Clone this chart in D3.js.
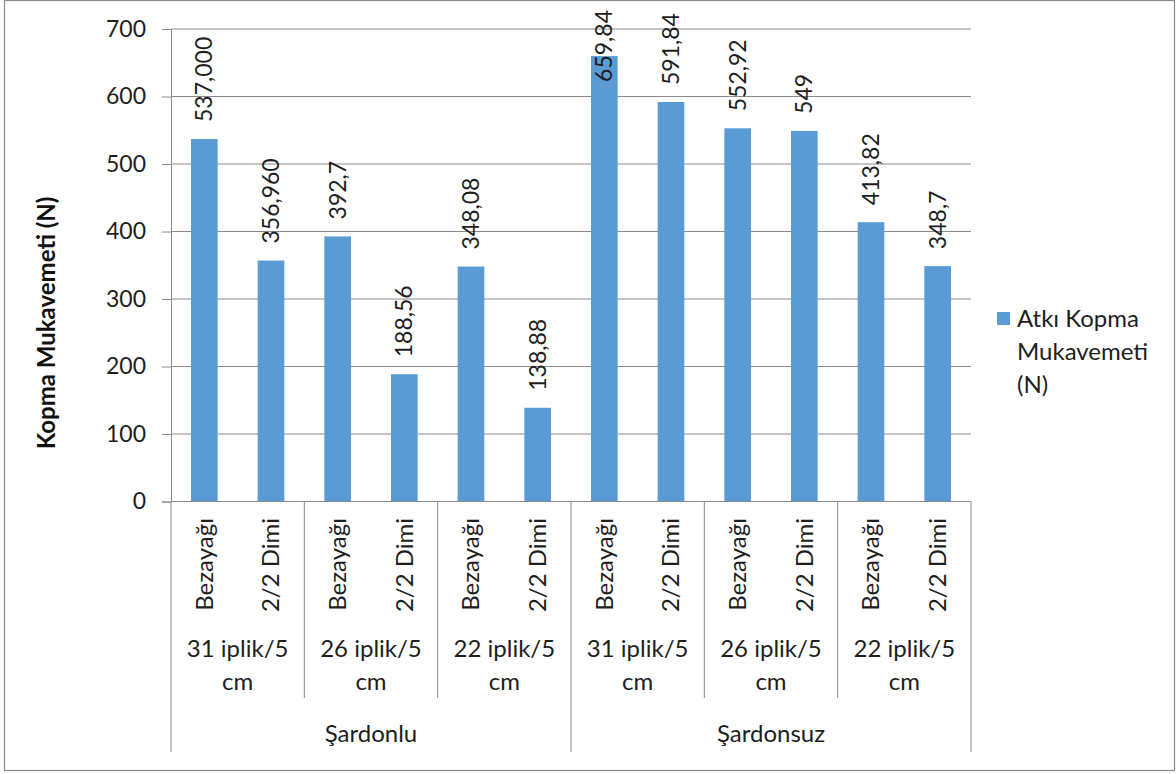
<!DOCTYPE html>
<html>
<head>
<meta charset="utf-8">
<script src="https://cdn.jsdelivr.net/npm/d3@7"></script>
<style>
  html, body { margin: 0; padding: 0; background: #fff; }
  svg { display: block; font-family: Lato, "Liberation Sans", sans-serif; }
</style>
</head>
<body>
<svg id="chart" width="1176" height="774"></svg>
<script>
// Chart data
const groups = ["Şardonlu", "Şardonsuz"];
const densities = ["31 iplik/5 cm", "26 iplik/5 cm", "22 iplik/5 cm"];
const weaves = ["Bezayağı", "2/2 Dimi"];
const valueLabels = ["537,000", "356,960", "392,7", "188,56", "348,08", "138,88",
                     "659,84", "591,84", "552,92", "549", "413,82", "348,7"];
const values = valueLabels.map(s => +s.replace(",", "."));
const yTicks = [0, 100, 200, 300, 400, 500, 600, 700];
const seriesName = ["Atkı Kopma", "Mukavemeti", "(N)"];
const yTitle = "Kopma Mukavemeti (N)";

// Build the flat category list: group > density > weave
const cats = [];
groups.forEach((g, gi) => densities.forEach((d, di) => weaves.forEach((w, wi) => {
  cats.push({ key: `${gi}-${di}-${wi}`, g, d, w });
})));
cats.forEach((c, i) => { c.value = values[i]; c.label = valueLabels[i]; });

const svg = d3.select("#chart");
const plot = { left: 171, right: 971, top: 29, bottom: 501.5 };
const gray = "#8a8a8a";
const ink = "#1e1e1e";
const barColor = "#5b9bd5";
const numSize = 23, textSize = 24;

// Outer chart border
svg.append("rect").attr("x", 4.5).attr("y", 0.5).attr("width", 1170).attr("height", 770)
  .attr("fill", "#fff").attr("stroke", gray).attr("stroke-width", 1.2);

const x = d3.scaleBand().domain(cats.map(c => c.key))
  .range([plot.left, plot.right]).paddingInner(0.6).paddingOuter(0.3);
const y = d3.scaleLinear().domain([0, 700]).range([plot.bottom, plot.top]);
const step = x.step();

// Horizontal gridlines
svg.append("g").selectAll("line").data(yTicks.filter(t => t > 0)).join("line")
  .attr("x1", plot.left).attr("x2", plot.right)
  .attr("y1", d => y(d)).attr("y2", d => y(d))
  .attr("stroke", gray).attr("stroke-width", 1);

// Y axis
const yAxis = svg.append("g").attr("transform", `translate(${plot.left},0)`)
  .call(d3.axisLeft(y).tickValues(yTicks).tickSize(9).tickPadding(16).tickFormat(d3.format("d")));
yAxis.select(".domain").attr("stroke", gray);
yAxis.selectAll(".tick line").attr("stroke", gray);
yAxis.selectAll(".tick text").attr("font-size", numSize).attr("fill", ink)
  .attr("font-family", "Lato, 'Liberation Sans', sans-serif");

// Y axis title
svg.append("text")
  .attr("transform", `translate(55,323) rotate(-90)`)
  .attr("text-anchor", "middle").attr("font-size", textSize).attr("font-weight", "bold")
  .attr("fill", "#111").text(yTitle);

// Bars
svg.append("g").selectAll("rect").data(cats).join("rect")
  .attr("x", d => x(d.key)).attr("width", x.bandwidth())
  .attr("y", d => y(d.value)).attr("height", d => y(0) - y(d.value))
  .attr("fill", barColor);

// Value labels, rotated; kept inside the chart's top edge
const lbl = svg.append("g").selectAll("text").data(cats).join("text")
  .attr("text-anchor", "start").attr("font-size", numSize).attr("fill", ink)
  .text(d => d.label);
lbl.each(function(d) {
  const len = this.getComputedTextLength();
  const bottom = Math.max(y(d.value) - 17, 10 + len);
  const cx = x(d.key) + x.bandwidth() / 2;
  d3.select(this).attr("transform", `translate(${cx},${bottom}) rotate(-90)`).attr("dy", "0.35em");
});

// X axis baseline
svg.append("line").attr("x1", plot.left).attr("x2", plot.right)
  .attr("y1", plot.bottom).attr("y2", plot.bottom).attr("stroke", gray);

// Level 1: weave labels (rotated)
svg.append("g").selectAll("text").data(cats).join("text")
  .attr("transform", d => `translate(${x(d.key) + x.bandwidth() / 2},518) rotate(-90)`)
  .attr("text-anchor", "end").attr("dy", "0.35em").attr("font-size", textSize).attr("fill", ink)
  .text(d => d.w);

// Level 2: density labels, two lines each
const cellW = weaves.length * step;
const densCells = [];
groups.forEach((g, gi) => densities.forEach((d, di) => {
  densCells.push({ d, x0: plot.left + (gi * densities.length + di) * cellW });
}));
const dens = svg.append("g").selectAll("text").data(densCells).join("text")
  .attr("text-anchor", "middle").attr("font-size", textSize).attr("fill", ink);
dens.each(function(c) {
  const parts = c.d.split(" ");
  const t = d3.select(this);
  t.append("tspan").attr("x", c.x0 + cellW / 2).attr("y", 657).text(parts.slice(0, 2).join(" "));
  t.append("tspan").attr("x", c.x0 + cellW / 2).attr("y", 690).text(parts.slice(2).join(" "));
});

// Level 2 / level 3 separators
const seps = d3.range(0, groups.length * densities.length + 1).map(i => plot.left + i * cellW);
svg.append("g").selectAll("line").data(seps).join("line")
  .attr("x1", d => d).attr("x2", d => d)
  .attr("y1", plot.bottom)
  .attr("y2", (d, i) => i % densities.length === 0 ? 752 : 698)
  .attr("stroke", gray);

// Level 3: group labels
const groupW = densities.length * cellW;
svg.append("g").selectAll("text").data(groups).join("text")
  .attr("x", (g, i) => plot.left + i * groupW + groupW / 2).attr("y", 742)
  .attr("text-anchor", "middle").attr("font-size", textSize).attr("fill", ink)
  .text(g => g);

// Legend
const leg = svg.append("g");
leg.append("rect").attr("x", 997).attr("y", 312).attr("width", 13).attr("height", 13).attr("fill", barColor);
const legText = leg.append("text").attr("font-size", textSize).attr("fill", ink);
seriesName.forEach((s, i) => {
  legText.append("tspan").attr("x", 1017).attr("y", 327 + i * 33).text(s);
});
</script>
</body>
</html>
